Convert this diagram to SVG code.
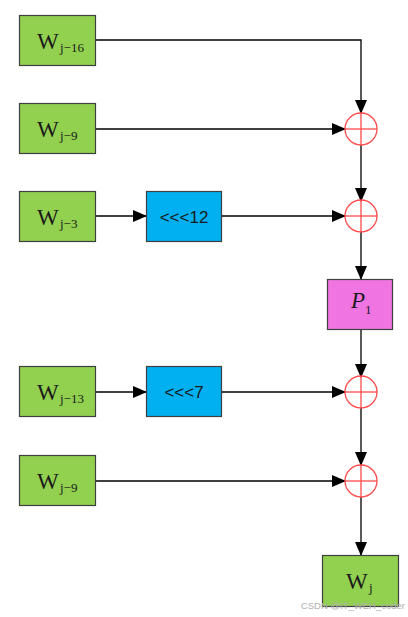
<svg xmlns="http://www.w3.org/2000/svg" width="408" height="617" viewBox="0 0 408 617">
<style>
.g{fill:#92d050;stroke:#3f3f3f;stroke-width:1.2}
.b{fill:#00b0f0;stroke:#3f3f3f;stroke-width:1.2}
.p{fill:#f075e2;stroke:#3f3f3f;stroke-width:1.2}
.x{fill:none;stroke:#ff4b4b;stroke-width:1.3}
.w{font-family:"Liberation Serif",serif;font-size:23px;fill:#1a1a1a}
.s{font-family:"Liberation Serif",serif;font-size:13px;fill:#1a1a1a}
.t{font-family:"Liberation Sans",sans-serif;font-size:17px;fill:#1a1a1a}
.c line,.c path{stroke:#000;stroke-width:1.3;fill:none}
</style>
<defs>
<marker id="a" markerWidth="14" markerHeight="12" refX="13" refY="6" orient="auto" markerUnits="userSpaceOnUse">
<path d="M0,0 L14,6 L0,12 z" fill="#000"/>
</marker>
</defs>
<g class="c">
<path d="M96,40 H361 V113" marker-end="url(#a)"/>
<line x1="96" y1="129" x2="345" y2="129" marker-end="url(#a)"/>
<line x1="361" y1="145" x2="361" y2="201" marker-end="url(#a)"/>
<line x1="96" y1="216" x2="146" y2="216" marker-end="url(#a)"/>
<line x1="222" y1="216" x2="345" y2="216" marker-end="url(#a)"/>
<line x1="361" y1="232" x2="361" y2="279" marker-end="url(#a)"/>
<line x1="361" y1="330" x2="361" y2="377" marker-end="url(#a)"/>
<line x1="96" y1="392" x2="146" y2="392" marker-end="url(#a)"/>
<line x1="222" y1="392" x2="345" y2="392" marker-end="url(#a)"/>
<line x1="361" y1="408" x2="361" y2="465" marker-end="url(#a)"/>
<line x1="96" y1="481" x2="345" y2="481" marker-end="url(#a)"/>
<line x1="361" y1="497" x2="361" y2="555" marker-end="url(#a)"/>
</g>
<g id="w16"><rect class="g" x="19.5" y="15.5" width="76" height="50"/><text x="37" y="49" class="w">W</text><text x="60" y="52" class="s">j−16</text></g>
<g id="w9a"><rect class="g" x="19.5" y="103.5" width="76" height="50"/><text x="37" y="137" class="w">W</text><text x="60" y="140" class="s">j−9</text></g>
<g id="w3"><rect class="g" x="19.5" y="191.5" width="76" height="50"/><text x="37" y="225" class="w">W</text><text x="60" y="228" class="s">j−3</text></g>
<g id="r12"><rect class="b" x="146.5" y="191.5" width="75" height="50"/><text x="184" y="223" class="t" text-anchor="middle">&lt;&lt;&lt;12</text></g>
<g id="o1"><circle class="x" cx="361" cy="129" r="16"/><line class="x" x1="345" y1="129" x2="377" y2="129"/><line class="x" x1="361" y1="113" x2="361" y2="145"/></g>
<g id="o2"><circle class="x" cx="361" cy="216" r="16"/><line class="x" x1="345" y1="216" x2="377" y2="216"/><line class="x" x1="361" y1="200" x2="361" y2="232"/></g>
<g id="p1"><rect class="p" x="327.5" y="279.5" width="65" height="50"/><text x="351" y="308" class="w" font-style="italic" font-size="18">P</text><text x="365" y="314" class="s">1</text></g>
<g id="w13"><rect class="g" x="19.5" y="366.5" width="76" height="50"/><text x="37" y="400" class="w">W</text><text x="60" y="403" class="s">j−13</text></g>
<g id="r7"><rect class="b" x="146.5" y="366.5" width="75" height="50"/><text x="184" y="398" class="t" text-anchor="middle">&lt;&lt;&lt;7</text></g>
<g id="o3"><circle class="x" cx="361" cy="392" r="16"/><line class="x" x1="345" y1="392" x2="377" y2="392"/><line class="x" x1="361" y1="376" x2="361" y2="408"/></g>
<g id="w9b"><rect class="g" x="19.5" y="455.5" width="76" height="50"/><text x="37" y="489" class="w">W</text><text x="60" y="492" class="s">j−9</text></g>
<g id="o4"><circle class="x" cx="361" cy="481" r="16"/><line class="x" x1="345" y1="481" x2="377" y2="481"/><line class="x" x1="361" y1="465" x2="361" y2="497"/></g>
<g id="wj"><rect class="g" x="322.5" y="555.5" width="76" height="51"/><text x="346" y="589" class="w">W</text><text x="369" y="592" class="s">j</text></g>
<text x="405" y="609" font-family="Liberation Sans,sans-serif" font-size="9.5" fill="#b0b0b0" text-anchor="end">CSDN @IT_WEH_coder</text>
</svg>
